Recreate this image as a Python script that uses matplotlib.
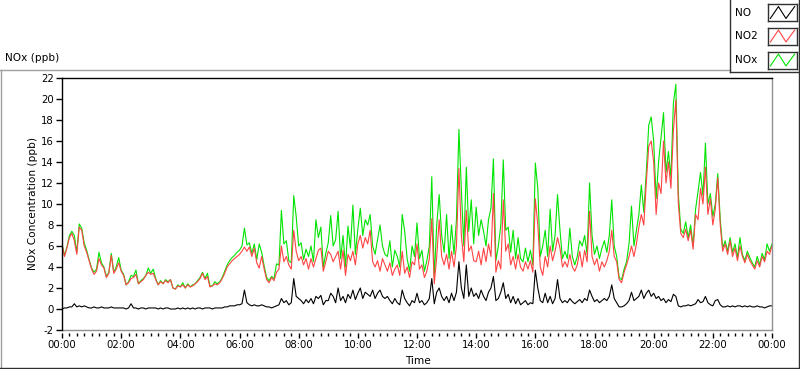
import matplotlib

matplotlib.use("Agg")
import matplotlib.pyplot as plt
import numpy as np
from matplotlib.lines import Line2D
from matplotlib.ticker import FixedLocator, MultipleLocator

# 5-minute readings (ppb) from 00:00 to 24:00, one row per hour
no2_ppb = [
    6.2, 5.0, 5.8, 6.8, 7.2, 6.5, 5.2, 7.8, 7.5, 6.0, 5.4, 4.6,
    3.8, 3.3, 3.6, 4.8, 4.2, 3.9, 3.0, 3.4, 5.1, 3.4, 3.8, 4.4,
    3.6, 3.2, 2.3, 2.5, 2.9, 3.0, 3.3, 2.4, 2.6, 2.8, 3.2, 3.5,
    3.3, 3.4, 2.8, 2.3, 2.6, 2.4, 2.7, 2.5, 2.8, 2.0, 1.9, 2.2,
    2.1, 2.3, 2.0, 2.3, 2.1, 2.2, 2.4, 2.6, 2.9, 3.4, 2.8, 3.1,
    2.1, 2.2, 2.4, 2.3, 2.5, 2.9, 3.4, 4.0, 4.3, 4.6, 4.8, 5.0,
    5.2, 5.5, 5.9, 5.5, 5.9, 5.0, 5.8, 4.4, 3.9, 5.0, 3.8, 2.8,
    2.5, 3.0, 2.7, 3.5, 3.8, 6.0, 4.5, 5.0, 4.2, 3.8, 7.5, 5.5,
    4.6, 5.0, 4.2, 4.8, 3.8, 4.8, 4.0, 4.8, 5.6, 5.8, 3.6, 4.5,
    5.5, 5.2, 4.5, 5.0, 5.5, 3.8, 5.6, 3.2, 5.2, 4.6, 5.5, 4.2,
    6.2, 7.0, 5.8, 6.8, 6.2, 7.5, 4.5, 4.0, 4.6, 3.6, 4.8, 4.2,
    3.6, 4.4, 3.2, 3.8, 4.2, 3.2, 5.5, 3.4, 4.0, 3.0, 4.5, 4.2,
    6.2, 3.8, 4.2, 3.0, 3.6, 4.8, 8.6, 2.4, 5.0, 8.5, 5.0, 4.2,
    5.2, 3.8, 5.5, 4.0, 6.0, 13.4, 7.0, 4.5, 9.4, 5.5, 6.0, 4.6,
    4.5, 5.5, 4.2, 5.8, 4.5, 6.2, 5.0, 11.0, 3.5, 4.6, 3.8, 10.4,
    5.5, 6.2, 4.2, 5.0, 3.8, 5.2, 4.0, 3.6, 4.5, 3.8, 4.6, 3.5,
    10.5, 8.0, 4.0, 3.2, 5.0, 4.0, 6.0, 4.6, 5.5, 6.8, 5.8, 4.0,
    4.5, 4.0, 5.2, 4.0, 3.6, 4.2, 5.5, 4.0, 5.6, 4.5, 9.3, 5.0,
    4.2, 4.8, 3.6, 4.5, 4.0, 4.6, 5.5, 7.5, 5.0, 4.5, 2.8, 2.5,
    3.5, 4.2, 5.0, 6.0, 5.0, 6.2, 7.8, 9.0, 8.0, 12.0, 15.5, 16.0,
    14.0, 9.0, 12.0, 11.0, 16.0, 12.0, 14.0, 11.5, 17.0, 19.9, 10.0, 7.2,
    6.8, 7.6, 6.5, 7.5, 5.7, 9.0, 8.5, 11.5, 10.0, 13.5, 9.0, 10.5,
    8.0, 9.5, 12.5, 8.0, 5.5, 6.2, 5.2, 6.5, 5.0, 5.8, 4.6, 6.0,
    5.0, 4.4, 5.2, 4.6, 4.2, 3.8, 4.6, 4.0, 5.0, 4.5, 5.5, 5.2,
    6.0,
]

nox_ppb = [
    6.2, 5.1, 5.9, 7.0, 7.4, 7.0, 5.4, 8.1, 7.7, 6.3, 5.6, 4.7,
    3.9, 3.5, 3.8, 5.4, 4.4, 4.0, 3.1, 3.5, 5.3, 3.5, 4.0, 4.9,
    3.7, 3.3, 2.3, 2.6, 3.2, 3.1, 3.7, 2.4, 2.7, 2.9, 3.2, 3.9,
    3.4, 3.8, 2.9, 2.3, 2.7, 2.4, 2.8, 2.6, 2.8, 2.0, 1.9, 2.3,
    2.1, 2.5, 2.0, 2.4, 2.1, 2.3, 2.4, 2.7, 3.0, 3.5, 2.9, 3.4,
    2.2, 2.2, 2.6, 2.4, 2.6, 3.0, 3.6, 4.2, 4.6, 4.9, 5.1, 5.4,
    5.6, 6.0, 7.7, 6.1, 6.3, 5.3, 6.2, 4.7, 6.2, 5.4, 4.1, 3.0,
    2.7, 3.1, 2.9, 4.3, 4.2, 9.4, 6.2, 6.5, 4.6, 4.4, 10.8, 8.8,
    6.0, 6.3, 4.7, 5.7, 5.0, 6.0, 4.5, 8.5, 6.8, 7.8, 4.0, 5.3,
    6.3, 8.9, 6.0, 6.6, 9.3, 4.8, 7.0, 4.0, 7.9, 5.8, 9.9, 5.2,
    7.6, 9.6, 7.0, 8.5, 8.0, 9.0, 6.0, 5.2, 6.6, 8.0, 6.0, 5.2,
    5.0, 6.5, 4.0, 5.6, 5.0, 4.0, 9.0, 7.4, 4.8, 3.6, 6.0, 5.0,
    8.2, 4.8, 5.6, 3.6, 4.6, 6.0, 12.6, 3.0, 8.0, 10.9, 7.0, 5.4,
    9.0, 4.8, 8.0, 5.2, 8.5, 17.1, 11.3, 6.0, 13.5, 7.4, 10.4, 6.2,
    9.7, 7.0, 8.5, 7.4, 6.0, 8.5, 9.6, 14.3, 4.6, 6.0, 8.0, 14.2,
    7.5, 7.8, 5.4, 7.5, 4.8, 6.8, 4.8, 4.5, 5.8, 4.5, 5.6, 4.2,
    13.9, 11.5, 5.0, 6.0, 7.5, 5.0, 9.5, 5.5, 7.0, 10.9, 7.5, 4.8,
    5.5, 4.8, 7.7, 5.0, 4.2, 5.0, 6.5, 6.0, 7.0, 5.2, 12.0, 7.0,
    5.2, 6.0, 4.8, 5.8, 6.5, 5.4, 7.0, 10.4, 6.0, 5.0, 3.0, 2.8,
    3.8, 4.5, 6.2, 9.8, 6.0, 7.5, 9.0, 11.8, 9.2, 13.0, 17.5, 18.3,
    16.0, 10.5, 14.0, 16.3, 18.7, 13.0, 15.0, 12.5, 19.6, 21.4, 11.0, 7.6,
    7.2, 8.3, 6.8, 8.0, 6.0, 9.5, 11.2, 13.0, 10.8, 15.8, 10.0, 11.0,
    8.8, 10.0, 12.9, 8.6, 5.8, 6.5, 5.5, 6.8, 5.4, 6.2, 4.9, 6.8,
    5.2, 4.6, 5.5, 4.9, 4.4, 4.0, 5.0, 4.2, 5.3, 4.7, 6.2, 5.5,
    6.2,
]

no_ppb = [
    0.0, 0.1, 0.1, 0.2, 0.2, 0.5, 0.2, 0.3, 0.2, 0.3, 0.2, 0.1,
    0.1, 0.2, 0.1, 0.1, 0.2, 0.1, 0.1, 0.1, 0.2, 0.1, 0.1, 0.1,
    0.1, 0.1, 0.0, 0.1, 0.5, 0.1, 0.1, 0.0, 0.1, 0.1, 0.0, 0.1,
    0.1, 0.1, 0.1, 0.0, 0.1, 0.0, 0.1, 0.1, 0.0, 0.0, 0.0, 0.1,
    0.0, 0.1, 0.0, 0.1, 0.0, 0.1, 0.0, 0.1, 0.1, 0.0, 0.1, 0.1,
    0.1, 0.0, 0.1, 0.1, 0.1, 0.1, 0.2, 0.2, 0.3, 0.3, 0.3, 0.4,
    0.4, 0.5, 1.8, 0.6, 0.4, 0.3, 0.4, 0.3, 0.3, 0.4, 0.3, 0.2,
    0.2, 0.1, 0.2, 0.3, 0.4, 1.0, 0.6, 0.8, 0.4, 0.6, 2.9, 1.2,
    1.0, 0.8, 0.5, 0.9, 0.6, 1.0, 0.5, 1.2, 1.0, 1.3, 0.4, 0.8,
    0.8, 1.5, 1.2, 0.6, 2.0, 0.8, 1.2, 0.6, 1.4, 1.0, 1.8, 0.9,
    1.5, 2.0, 1.0, 1.6, 1.4, 1.2, 1.8, 1.0, 1.5, 1.8, 1.2, 1.0,
    1.2, 0.8, 0.5, 1.0, 0.6, 0.4, 1.8, 1.0, 0.6, 0.3, 0.8, 0.6,
    1.5, 0.6, 0.8, 0.4, 0.6, 1.0, 2.9, 0.5, 1.6, 2.0, 1.2, 0.8,
    1.2, 0.6, 1.5, 0.8, 1.6, 4.5, 2.0, 1.0, 4.2, 1.2, 2.0, 1.2,
    1.5, 1.0, 1.8, 1.2, 0.8, 1.6, 2.0, 3.1, 0.8, 1.0, 1.6, 2.5,
    1.0, 1.4, 0.6, 1.2, 0.5, 1.0, 0.4, 0.6, 0.8, 0.4, 0.6, 0.5,
    3.7, 2.0, 0.8, 0.6, 1.5, 0.6, 1.2, 0.5, 1.0, 2.8, 1.0, 0.6,
    0.8, 0.6, 1.0, 0.7, 0.5, 0.7, 0.9, 0.6, 1.0, 0.8, 1.8, 1.2,
    0.7, 0.9, 0.6, 0.8, 1.0, 0.8, 1.2, 2.3, 1.0, 0.6, 0.2, 0.2,
    0.3, 0.5, 0.8, 1.6, 0.8, 1.0, 1.2, 1.8, 1.0, 1.5, 1.8, 1.2,
    1.5, 1.0, 1.2, 0.8, 1.0, 0.6, 0.9, 0.7, 1.4, 1.2, 0.3, 0.2,
    0.3, 0.3, 0.4, 0.3, 0.4, 0.5, 0.9, 0.6, 0.7, 1.2, 0.6, 0.4,
    0.3, 0.8, 0.9, 0.4, 0.2, 0.2, 0.3, 0.2, 0.3, 0.2, 0.3, 0.3,
    0.2, 0.3, 0.2, 0.3, 0.2, 0.2, 0.3, 0.2, 0.2, 0.1, 0.2, 0.3,
    0.3,
]

hour_ticks = list(range(0, 25, 2))
hour_labels = ["00:00", "02:00", "04:00", "06:00", "08:00", "10:00", "12:00",
               "14:00", "16:00", "18:00", "20:00", "22:00", "00:00"]
y_ticks = list(range(-2, 23, 2))

series_names = ["NO", "NO2", "NOx"]
series_colors = ["black", "#ff4444", "#00e400"]

W, H = 800, 369
FONT = "DejaVu Sans"
PX = 0.72  # one pixel in points at dpi 100


def fx(px):
    return px / W


def fy(py):
    return 1 - py / H


fig = plt.figure(figsize=(W / 100, H / 100), dpi=100)
fig.patch.set_facecolor("white")


def fig_line(xs, ys, color):
    fig.add_artist(Line2D([fx(x) for x in xs], [fy(y) for y in ys],
                          color=color, lw=1.0, transform=fig.transFigure))


# panel frame (LabVIEW-like)
fig_line([0, 730], [69.5, 69.5], "#a0a0a0")
fig_line([0.5, 0.5], [69.5, 368], "#a0a0a0")
fig_line([0, 800], [368, 368], "#303030")
fig_line([799, 799], [0, 368], "#303030")
fig_line([730, 730], [0, 72], "#303030")
fig_line([730, 800], [71.5, 71.5], "#303030")

ax = fig.add_axes([fx(62), fy(330), (772 - 62) / W, (330 - 78) / H])
t_hours = np.arange(len(no2_ppb)) / 12
ax.plot(t_hours, nox_ppb, color=series_colors[2], lw=0.8)
ax.plot(t_hours, no2_ppb, color=series_colors[1], lw=0.8)
ax.plot(t_hours, no_ppb, color=series_colors[0], lw=0.8)
ax.set_xlim(0, 24)
ax.set_ylim(-2, 22)

# frame: dark top/left, grey bottom/right; x scale hangs a little below
ax.spines["top"].set_color("black")
ax.spines["left"].set_color("black")
ax.spines["right"].set_color("#909090")
ax.spines["bottom"].set_visible(False)
ax.spines["bottom"].set_position(("outward", 2.5 * PX))
ax.add_line(Line2D([0, 1], [0, 0], transform=ax.transAxes, color="#909090",
                   lw=1.0, clip_on=False))
for s in ax.spines.values():
    s.set_linewidth(1.0)

ax.xaxis.set_major_locator(FixedLocator(hour_ticks))
ax.set_xticklabels(hour_labels)
ax.xaxis.set_minor_locator(MultipleLocator(0.25))
ax.set_yticks(y_ticks)
ax.set_yticklabels([str(v) for v in y_ticks])
ax.tick_params(axis="x", which="major", direction="out", length=5 * PX,
               width=1.0, pad=2, labelsize=7.3, colors="black")
ax.tick_params(axis="x", which="minor", direction="out", length=3 * PX,
               width=1.0)
ax.tick_params(axis="y", direction="out", length=6 * PX, width=1.0, pad=1.5,
               labelsize=7.3)
for lab in ax.get_xticklabels() + ax.get_yticklabels():
    lab.set_family(FONT)

fig.text(fx(5), fy(58), "NOx (ppb)", ha="left", va="center", fontsize=7.6,
         family=FONT)
fig.text(fx(33), fy(204), "NOx Concentration (ppb)", rotation=90,
         ha="center", va="center", fontsize=7.6, family=FONT)
fig.text(fx(418), fy(361), "Time", ha="center", va="center", fontsize=7.6,
         family=FONT)

# legend: names plus boxed zigzag swatches
legend_rows = [12.5, 36, 60]
for name, color, yc in zip(series_names, series_colors, legend_rows):
    fig.text(fx(735), fy(yc), name, ha="left", va="center", fontsize=7.6,
             family=FONT)
    sw = fig.add_axes([fx(768), fy(yc + 8.5), 29 / W, 17 / H])
    sw.set_xlim(0, 1)
    sw.set_ylim(0, 1)
    sw.set_xticks([])
    sw.set_yticks([])
    for s in sw.spines.values():
        s.set_color("#303030")
        s.set_linewidth(1.0)
    sw.plot([0.08, 0.36, 0.62, 0.92], [0.15, 0.85, 0.15, 0.85], color=color,
            lw=0.8)

fig.savefig("out.png", dpi=100)
